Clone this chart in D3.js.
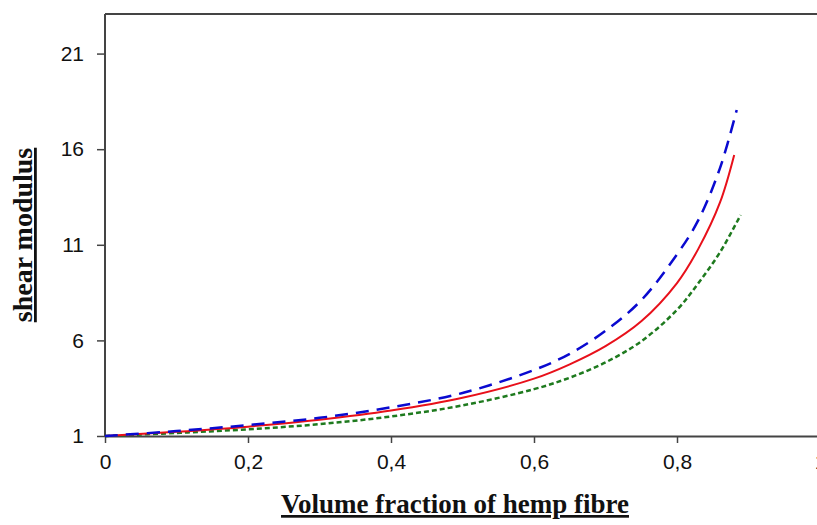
<!DOCTYPE html>
<html>
<head>
<meta charset="utf-8">
<script src="https://cdn.jsdelivr.net/npm/d3@7"></script>
<style>
  body { margin: 0; background: #fff; }
  .tick text { font-family: Arial, "Liberation Sans", sans-serif; font-size: 21px; fill: #111; }
  .title { font-family: "Liberation Serif", "Times New Roman", serif; font-weight: bold; fill: #111; text-decoration: underline; }
</style>
</head>
<body>
<div id="chart"></div>
<script>
// values
const blueX  = [0, 0.1, 0.2, 0.3, 0.4, 0.5, 0.6, 0.65, 0.7, 0.75, 0.8, 0.83, 0.86, 0.8835];
const blueY  = [1, 1.26, 1.57, 1.95, 2.5, 3.25, 4.45, 5.3, 6.5, 8.1, 10.5, 12.3, 15.0, 18.05];
const redX   = [0, 0.1, 0.2, 0.3, 0.4, 0.5, 0.6, 0.65, 0.7, 0.75, 0.8, 0.83, 0.86, 0.88];
const redY   = [1, 1.22, 1.49, 1.85, 2.33, 3.0, 4.0, 4.75, 5.7, 7.0, 9.0, 10.8, 13.2, 15.7];
const greenX = [0, 0.1, 0.2, 0.3, 0.4, 0.5, 0.6, 0.65, 0.7, 0.75, 0.8, 0.83, 0.86, 0.889];
const greenY = [1, 1.16, 1.35, 1.62, 2.02, 2.6, 3.45, 4.05, 4.85, 5.95, 7.6, 9.0, 10.6, 12.56];
const xTicks = [0, 0.2, 0.4, 0.6, 0.8, 1];
const yTicks = [1, 6, 11, 16, 21];

const width = 817, height = 525;
const yTop = 23.07;
const x = d3.scaleLinear().domain([0, 1]).range([105, 820]);
const y = d3.scaleLinear().domain([1, yTop]).range([436, 14]);

const svg = d3.select("#chart").append("svg")
  .attr("width", width)
  .attr("height", height);

// frame top
svg.append("line")
  .attr("x1", x(0)).attr("x2", width)
  .attr("y1", y(yTop)).attr("y2", y(yTop))
  .attr("stroke", "#444").attr("stroke-width", 2);

const fmt = d => String(d).replace(".", ",");

const xAxis = svg.append("g")
  .attr("transform", `translate(0,${y(1)})`)
  .call(d3.axisBottom(x).tickValues(xTicks).tickFormat(fmt).tickSize(7).tickSizeOuter(0).tickPadding(11));

const yAxis = svg.append("g")
  .attr("transform", `translate(${x(0)},0)`)
  .call(d3.axisLeft(y).tickValues(yTicks).tickSize(8).tickSizeOuter(0).tickPadding(13));

[xAxis, yAxis].forEach(a => {
  a.select(".domain").attr("stroke", "#444").attr("stroke-width", 2);
  a.selectAll(".tick line").attr("stroke", "#444").attr("stroke-width", 1.5);
});
yAxis.select(".domain").attr("d", `M0,${y(1)}V${y(yTop)}`);

const line = d3.line()
  .curve(d3.curveCatmullRom.alpha(0.5))
  .x(d => x(d[0]))
  .y(d => y(d[1]));

const series = [
  { xs: greenX, ys: greenY, color: "#1e7a1e", dash: "5,3", w: 2.5 },
  { xs: redX, ys: redY, color: "#e8101a", dash: null, w: 2 },
  { xs: blueX, ys: blueY, color: "#0a0ad0", dash: "13,8", w: 2.5 }
];

series.forEach(s => {
  svg.append("path")
    .datum(d3.zip(s.xs, s.ys))
    .attr("fill", "none")
    .attr("stroke", s.color)
    .attr("stroke-width", s.w)
    .attr("stroke-dasharray", s.dash)
    .attr("d", line);
});

svg.append("text")
  .attr("class", "title")
  .attr("x", 455)
  .attr("y", 513)
  .attr("text-anchor", "middle")
  .style("font-size", "27px")
  .text("Volume fraction of hemp fibre");

svg.append("text")
  .attr("class", "title")
  .attr("transform", "translate(32,235) rotate(-90)")
  .attr("text-anchor", "middle")
  .style("font-size", "28px")
  .text("shear modulus");
</script>
</body>
</html>
